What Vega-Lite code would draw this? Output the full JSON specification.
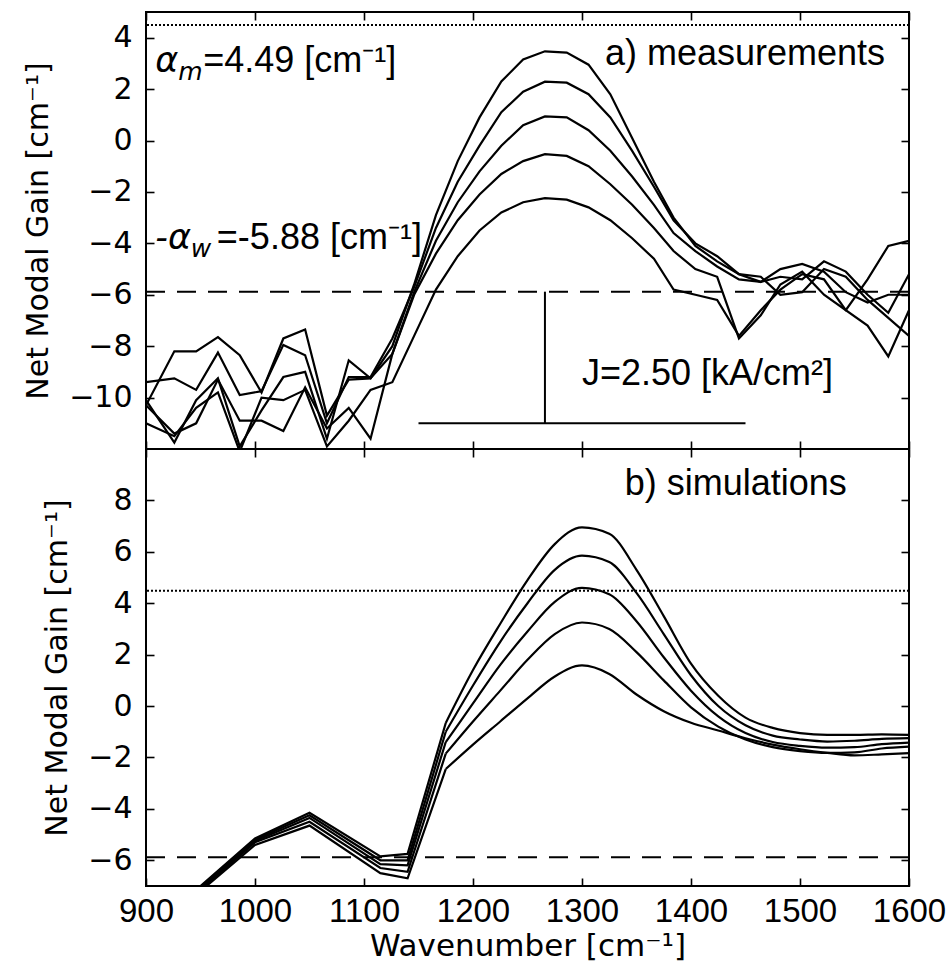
{
  "$schema": "https://vega.github.io/schema/vega-lite/v6.json",
  "padding": {"left": 22, "top": 10, "right": 0, "bottom": 0},
  "background": "white",
  "spacing": 0,
  "bounds": "flush",
  "config": {
    "view": {"stroke": "black", "strokeWidth": 2},
    "font": "Liberation Sans",
    "axis": {
      "grid": false, "domain": false, "tickColor": "black", "tickSize": 8, "tickWidth": 1.6, "offset": -8,
      "labelFont": "DejaVu Sans", "labelFontSize": 30, "labelColor": "black",
      "titleFont": "DejaVu Sans", "titleFontSize": 30, "titleFontWeight": "normal", "titleColor": "black"
    }
  },
  "datasets": {
    "meas": [
      {"wavenumber":900,"gain":-10.3,"curve":1},{"wavenumber":926,"gain":-8.2,"curve":1},{"wavenumber":946,"gain":-8.2,"curve":1},{"wavenumber":966,"gain":-7.65,"curve":1},{"wavenumber":986,"gain":-8.35,"curve":1},{"wavenumber":1006,"gain":-9.8,"curve":1},{"wavenumber":1026,"gain":-7.7,"curve":1},{"wavenumber":1046,"gain":-7.35,"curve":1},{"wavenumber":1066,"gain":-10.7,"curve":1},{"wavenumber":1086,"gain":-9.3,"curve":1},{"wavenumber":1106,"gain":-9.25,"curve":1},{"wavenumber":1126,"gain":-8.0,"curve":1},{"wavenumber":1146,"gain":-5.6,"curve":1},{"wavenumber":1166,"gain":-2.9,"curve":1},{"wavenumber":1186,"gain":-0.8,"curve":1},{"wavenumber":1206,"gain":0.9,"curve":1},{"wavenumber":1226,"gain":2.3,"curve":1},{"wavenumber":1246,"gain":3.15,"curve":1},{"wavenumber":1266,"gain":3.47,"curve":1},{"wavenumber":1286,"gain":3.42,"curve":1},{"wavenumber":1306,"gain":2.95,"curve":1},{"wavenumber":1326,"gain":1.8,"curve":1},{"wavenumber":1346,"gain":0.1,"curve":1},{"wavenumber":1366,"gain":-1.6,"curve":1},{"wavenumber":1384,"gain":-3.0,"curve":1},{"wavenumber":1404,"gain":-4.1,"curve":1},{"wavenumber":1424,"gain":-4.7,"curve":1},{"wavenumber":1444,"gain":-5.2,"curve":1},{"wavenumber":1464,"gain":-5.3,"curve":1},{"wavenumber":1482,"gain":-6.0,"curve":1},{"wavenumber":1502,"gain":-5.9,"curve":1},{"wavenumber":1522,"gain":-5.0,"curve":1},{"wavenumber":1542,"gain":-5.3,"curve":1},{"wavenumber":1562,"gain":-6.2,"curve":1},{"wavenumber":1581,"gain":-6.9,"curve":1},{"wavenumber":1600,"gain":-7.6,"curve":1},
      {"wavenumber":900,"gain":-9.4,"curve":2},{"wavenumber":926,"gain":-9.25,"curve":2},{"wavenumber":946,"gain":-9.7,"curve":2},{"wavenumber":966,"gain":-8.25,"curve":2},{"wavenumber":986,"gain":-9.9,"curve":2},{"wavenumber":1006,"gain":-9.75,"curve":2},{"wavenumber":1026,"gain":-7.95,"curve":2},{"wavenumber":1046,"gain":-8.35,"curve":2},{"wavenumber":1066,"gain":-11.0,"curve":2},{"wavenumber":1086,"gain":-9.2,"curve":2},{"wavenumber":1106,"gain":-9.2,"curve":2},{"wavenumber":1126,"gain":-7.7,"curve":2},{"wavenumber":1146,"gain":-5.7,"curve":2},{"wavenumber":1166,"gain":-3.4,"curve":2},{"wavenumber":1186,"gain":-1.6,"curve":2},{"wavenumber":1206,"gain":-0.2,"curve":2},{"wavenumber":1226,"gain":1.1,"curve":2},{"wavenumber":1246,"gain":1.9,"curve":2},{"wavenumber":1266,"gain":2.29,"curve":2},{"wavenumber":1286,"gain":2.25,"curve":2},{"wavenumber":1306,"gain":1.8,"curve":2},{"wavenumber":1326,"gain":0.9,"curve":2},{"wavenumber":1346,"gain":-0.4,"curve":2},{"wavenumber":1366,"gain":-1.8,"curve":2},{"wavenumber":1384,"gain":-3.1,"curve":2},{"wavenumber":1404,"gain":-4.0,"curve":2},{"wavenumber":1424,"gain":-4.5,"curve":2},{"wavenumber":1444,"gain":-5.2,"curve":2},{"wavenumber":1464,"gain":-5.5,"curve":2},{"wavenumber":1482,"gain":-5.0,"curve":2},{"wavenumber":1502,"gain":-4.8,"curve":2},{"wavenumber":1522,"gain":-5.1,"curve":2},{"wavenumber":1542,"gain":-5.9,"curve":2},{"wavenumber":1562,"gain":-6.3,"curve":2},{"wavenumber":1581,"gain":-6.0,"curve":2},{"wavenumber":1600,"gain":-6.0,"curve":2},
      {"wavenumber":900,"gain":-10.1,"curve":3},{"wavenumber":926,"gain":-11.75,"curve":3},{"wavenumber":946,"gain":-10.1,"curve":3},{"wavenumber":966,"gain":-9.25,"curve":3},{"wavenumber":986,"gain":-11.9,"curve":3},{"wavenumber":1006,"gain":-10.5,"curve":3},{"wavenumber":1026,"gain":-9.2,"curve":3},{"wavenumber":1046,"gain":-9.0,"curve":3},{"wavenumber":1066,"gain":-11.6,"curve":3},{"wavenumber":1086,"gain":-8.55,"curve":3},{"wavenumber":1106,"gain":-9.25,"curve":3},{"wavenumber":1126,"gain":-8.3,"curve":3},{"wavenumber":1146,"gain":-5.9,"curve":3},{"wavenumber":1166,"gain":-3.9,"curve":3},{"wavenumber":1186,"gain":-2.4,"curve":3},{"wavenumber":1206,"gain":-1.2,"curve":3},{"wavenumber":1226,"gain":-0.2,"curve":3},{"wavenumber":1246,"gain":0.6,"curve":3},{"wavenumber":1266,"gain":0.94,"curve":3},{"wavenumber":1286,"gain":0.9,"curve":3},{"wavenumber":1306,"gain":0.4,"curve":3},{"wavenumber":1326,"gain":-0.4,"curve":3},{"wavenumber":1346,"gain":-1.4,"curve":3},{"wavenumber":1366,"gain":-2.5,"curve":3},{"wavenumber":1384,"gain":-3.6,"curve":3},{"wavenumber":1404,"gain":-4.3,"curve":3},{"wavenumber":1424,"gain":-4.9,"curve":3},{"wavenumber":1444,"gain":-5.4,"curve":3},{"wavenumber":1464,"gain":-5.5,"curve":3},{"wavenumber":1482,"gain":-5.3,"curve":3},{"wavenumber":1502,"gain":-5.4,"curve":3},{"wavenumber":1522,"gain":-4.7,"curve":3},{"wavenumber":1542,"gain":-5.1,"curve":3},{"wavenumber":1562,"gain":-6.0,"curve":3},{"wavenumber":1581,"gain":-6.7,"curve":3},{"wavenumber":1600,"gain":-5.2,"curve":3},
      {"wavenumber":900,"gain":-10.3,"curve":4},{"wavenumber":926,"gain":-11.4,"curve":4},{"wavenumber":946,"gain":-11.0,"curve":4},{"wavenumber":966,"gain":-9.3,"curve":4},{"wavenumber":986,"gain":-10.9,"curve":4},{"wavenumber":1006,"gain":-10.9,"curve":4},{"wavenumber":1026,"gain":-11.3,"curve":4},{"wavenumber":1046,"gain":-9.6,"curve":4},{"wavenumber":1066,"gain":-11.2,"curve":4},{"wavenumber":1086,"gain":-10.4,"curve":4},{"wavenumber":1106,"gain":-11.6,"curve":4},{"wavenumber":1126,"gain":-8.3,"curve":4},{"wavenumber":1146,"gain":-6.0,"curve":4},{"wavenumber":1166,"gain":-4.4,"curve":4},{"wavenumber":1186,"gain":-3.1,"curve":4},{"wavenumber":1206,"gain":-2.1,"curve":4},{"wavenumber":1226,"gain":-1.3,"curve":4},{"wavenumber":1246,"gain":-0.8,"curve":4},{"wavenumber":1266,"gain":-0.53,"curve":4},{"wavenumber":1286,"gain":-0.6,"curve":4},{"wavenumber":1306,"gain":-1.0,"curve":4},{"wavenumber":1326,"gain":-1.7,"curve":4},{"wavenumber":1346,"gain":-2.5,"curve":4},{"wavenumber":1366,"gain":-3.4,"curve":4},{"wavenumber":1384,"gain":-4.3,"curve":4},{"wavenumber":1404,"gain":-5.0,"curve":4},{"wavenumber":1424,"gain":-5.3,"curve":4},{"wavenumber":1444,"gain":-7.7,"curve":4},{"wavenumber":1464,"gain":-6.8,"curve":4},{"wavenumber":1482,"gain":-5.6,"curve":4},{"wavenumber":1502,"gain":-5.1,"curve":4},{"wavenumber":1522,"gain":-6.0,"curve":4},{"wavenumber":1542,"gain":-6.6,"curve":4},{"wavenumber":1562,"gain":-5.4,"curve":4},{"wavenumber":1581,"gain":-4.1,"curve":4},{"wavenumber":1600,"gain":-3.9,"curve":4},
      {"wavenumber":900,"gain":-11.0,"curve":5},{"wavenumber":926,"gain":-11.5,"curve":5},{"wavenumber":946,"gain":-10.4,"curve":5},{"wavenumber":966,"gain":-9.8,"curve":5},{"wavenumber":986,"gain":-12.1,"curve":5},{"wavenumber":1006,"gain":-10.0,"curve":5},{"wavenumber":1026,"gain":-10.1,"curve":5},{"wavenumber":1046,"gain":-9.7,"curve":5},{"wavenumber":1066,"gain":-11.9,"curve":5},{"wavenumber":1086,"gain":-10.9,"curve":5},{"wavenumber":1106,"gain":-9.7,"curve":5},{"wavenumber":1126,"gain":-9.4,"curve":5},{"wavenumber":1146,"gain":-7.6,"curve":5},{"wavenumber":1166,"gain":-5.8,"curve":5},{"wavenumber":1186,"gain":-4.5,"curve":5},{"wavenumber":1206,"gain":-3.5,"curve":5},{"wavenumber":1226,"gain":-2.8,"curve":5},{"wavenumber":1246,"gain":-2.4,"curve":5},{"wavenumber":1266,"gain":-2.24,"curve":5},{"wavenumber":1286,"gain":-2.3,"curve":5},{"wavenumber":1306,"gain":-2.6,"curve":5},{"wavenumber":1326,"gain":-3.1,"curve":5},{"wavenumber":1346,"gain":-3.8,"curve":5},{"wavenumber":1366,"gain":-4.6,"curve":5},{"wavenumber":1384,"gain":-5.8,"curve":5},{"wavenumber":1404,"gain":-6.0,"curve":5},{"wavenumber":1424,"gain":-6.2,"curve":5},{"wavenumber":1444,"gain":-7.6,"curve":5},{"wavenumber":1464,"gain":-6.6,"curve":5},{"wavenumber":1482,"gain":-5.8,"curve":5},{"wavenumber":1502,"gain":-5.2,"curve":5},{"wavenumber":1522,"gain":-5.4,"curve":5},{"wavenumber":1542,"gain":-6.6,"curve":5},{"wavenumber":1562,"gain":-7.2,"curve":5},{"wavenumber":1581,"gain":-8.4,"curve":5},{"wavenumber":1600,"gain":-6.6,"curve":5}
    ],
    "sim": [
      {"wavenumber":900,"gain":-8.85,"curve":1},{"wavenumber":950,"gain":-7.0,"curve":1},{"wavenumber":1000,"gain":-5.15,"curve":1},{"wavenumber":1050,"gain":-4.15,"curve":1},{"wavenumber":1115,"gain":-5.85,"curve":1},{"wavenumber":1140,"gain":-5.75,"curve":1},{"wavenumber":1175,"gain":-0.66,"curve":1},{"wavenumber":1200,"gain":1.4,"curve":1},{"wavenumber":1225,"gain":3.2,"curve":1},{"wavenumber":1250,"gain":4.9,"curve":1},{"wavenumber":1275,"gain":6.3,"curve":1},{"wavenumber":1300,"gain":6.95,"curve":1},{"wavenumber":1325,"gain":6.7,"curve":1},{"wavenumber":1350,"gain":5.3,"curve":1},{"wavenumber":1375,"gain":3.5,"curve":1},{"wavenumber":1400,"gain":1.65,"curve":1},{"wavenumber":1425,"gain":0.4,"curve":1},{"wavenumber":1450,"gain":-0.45,"curve":1},{"wavenumber":1475,"gain":-0.85,"curve":1},{"wavenumber":1500,"gain":-1.05,"curve":1},{"wavenumber":1525,"gain":-1.12,"curve":1},{"wavenumber":1550,"gain":-1.12,"curve":1},{"wavenumber":1575,"gain":-1.1,"curve":1},{"wavenumber":1600,"gain":-1.12,"curve":1},
      {"wavenumber":900,"gain":-8.9,"curve":2},{"wavenumber":950,"gain":-7.05,"curve":2},{"wavenumber":1000,"gain":-5.2,"curve":2},{"wavenumber":1050,"gain":-4.25,"curve":2},{"wavenumber":1115,"gain":-6.0,"curve":2},{"wavenumber":1140,"gain":-6.0,"curve":2},{"wavenumber":1175,"gain":-1.0,"curve":2},{"wavenumber":1200,"gain":0.8,"curve":2},{"wavenumber":1225,"gain":2.5,"curve":2},{"wavenumber":1250,"gain":4.0,"curve":2},{"wavenumber":1275,"gain":5.3,"curve":2},{"wavenumber":1300,"gain":5.85,"curve":2},{"wavenumber":1325,"gain":5.6,"curve":2},{"wavenumber":1350,"gain":4.4,"curve":2},{"wavenumber":1375,"gain":2.8,"curve":2},{"wavenumber":1400,"gain":1.2,"curve":2},{"wavenumber":1425,"gain":0.0,"curve":2},{"wavenumber":1450,"gain":-0.75,"curve":2},{"wavenumber":1475,"gain":-1.15,"curve":2},{"wavenumber":1500,"gain":-1.3,"curve":2},{"wavenumber":1525,"gain":-1.38,"curve":2},{"wavenumber":1550,"gain":-1.35,"curve":2},{"wavenumber":1575,"gain":-1.28,"curve":2},{"wavenumber":1600,"gain":-1.25,"curve":2},
      {"wavenumber":900,"gain":-9.0,"curve":3},{"wavenumber":950,"gain":-7.1,"curve":3},{"wavenumber":1000,"gain":-5.25,"curve":3},{"wavenumber":1050,"gain":-4.35,"curve":3},{"wavenumber":1115,"gain":-6.15,"curve":3},{"wavenumber":1140,"gain":-6.2,"curve":3},{"wavenumber":1175,"gain":-1.4,"curve":3},{"wavenumber":1200,"gain":0.1,"curve":3},{"wavenumber":1225,"gain":1.6,"curve":3},{"wavenumber":1250,"gain":2.9,"curve":3},{"wavenumber":1275,"gain":4.05,"curve":3},{"wavenumber":1300,"gain":4.6,"curve":3},{"wavenumber":1325,"gain":4.35,"curve":3},{"wavenumber":1350,"gain":3.3,"curve":3},{"wavenumber":1375,"gain":1.9,"curve":3},{"wavenumber":1400,"gain":0.6,"curve":3},{"wavenumber":1425,"gain":-0.4,"curve":3},{"wavenumber":1450,"gain":-1.05,"curve":3},{"wavenumber":1475,"gain":-1.4,"curve":3},{"wavenumber":1500,"gain":-1.55,"curve":3},{"wavenumber":1525,"gain":-1.62,"curve":3},{"wavenumber":1550,"gain":-1.6,"curve":3},{"wavenumber":1575,"gain":-1.48,"curve":3},{"wavenumber":1600,"gain":-1.42,"curve":3},
      {"wavenumber":900,"gain":-9.1,"curve":4},{"wavenumber":950,"gain":-7.15,"curve":4},{"wavenumber":1000,"gain":-5.3,"curve":4},{"wavenumber":1050,"gain":-4.5,"curve":4},{"wavenumber":1115,"gain":-6.3,"curve":4},{"wavenumber":1140,"gain":-6.45,"curve":4},{"wavenumber":1175,"gain":-1.85,"curve":4},{"wavenumber":1200,"gain":-0.6,"curve":4},{"wavenumber":1225,"gain":0.6,"curve":4},{"wavenumber":1250,"gain":1.8,"curve":4},{"wavenumber":1275,"gain":2.8,"curve":4},{"wavenumber":1300,"gain":3.25,"curve":4},{"wavenumber":1325,"gain":3.0,"curve":4},{"wavenumber":1350,"gain":2.1,"curve":4},{"wavenumber":1375,"gain":1.0,"curve":4},{"wavenumber":1400,"gain":-0.05,"curve":4},{"wavenumber":1425,"gain":-0.8,"curve":4},{"wavenumber":1450,"gain":-1.3,"curve":4},{"wavenumber":1475,"gain":-1.6,"curve":4},{"wavenumber":1500,"gain":-1.75,"curve":4},{"wavenumber":1525,"gain":-1.82,"curve":4},{"wavenumber":1550,"gain":-1.8,"curve":4},{"wavenumber":1575,"gain":-1.65,"curve":4},{"wavenumber":1600,"gain":-1.58,"curve":4},
      {"wavenumber":900,"gain":-9.2,"curve":5},{"wavenumber":950,"gain":-7.2,"curve":5},{"wavenumber":1000,"gain":-5.4,"curve":5},{"wavenumber":1050,"gain":-4.65,"curve":5},{"wavenumber":1115,"gain":-6.5,"curve":5},{"wavenumber":1140,"gain":-6.7,"curve":5},{"wavenumber":1175,"gain":-2.45,"curve":5},{"wavenumber":1200,"gain":-1.5,"curve":5},{"wavenumber":1225,"gain":-0.6,"curve":5},{"wavenumber":1250,"gain":0.3,"curve":5},{"wavenumber":1275,"gain":1.15,"curve":5},{"wavenumber":1300,"gain":1.58,"curve":5},{"wavenumber":1325,"gain":1.25,"curve":5},{"wavenumber":1350,"gain":0.45,"curve":5},{"wavenumber":1375,"gain":-0.2,"curve":5},{"wavenumber":1400,"gain":-0.65,"curve":5},{"wavenumber":1425,"gain":-0.95,"curve":5},{"wavenumber":1450,"gain":-1.25,"curve":5},{"wavenumber":1475,"gain":-1.5,"curve":5},{"wavenumber":1500,"gain":-1.68,"curve":5},{"wavenumber":1525,"gain":-1.82,"curve":5},{"wavenumber":1550,"gain":-1.92,"curve":5},{"wavenumber":1575,"gain":-1.88,"curve":5},{"wavenumber":1600,"gain":-1.83,"curve":5}
    ]
  },
  "vconcat": [
    {
      "width": 763,
      "height": 437,
      "resolve": {"axis": {"x": "independent", "y": "independent"}},
      "layer": [
        {
          "data": {"name": "meas"},
          "mark": {"type": "line", "color": "black", "strokeWidth": 2.2, "clip": true},
          "encoding": {
            "x": {"field": "wavenumber", "type": "quantitative", "scale": {"domain": [900, 1600], "nice": false, "zero": false},
                  "axis": {"values": [900,1000,1100,1200,1300,1400,1500,1600], "labels": false, "title": null}},
            "y": {"field": "gain", "type": "quantitative", "scale": {"domain": [-12, 5], "nice": false, "zero": false},
                  "axis": {"values": [-10,-8,-6,-4,-2,0,2,4], "title": "Net Modal Gain [cm⁻¹]", "labelPadding": 14, "titlePadding": 15}},
            "detail": {"field": "curve"}
          }
        },
        {
          "data": {"values": [{"x": 1150, "x2": 1450, "y": -11, "y2": -11}, {"x": 1266, "x2": 1266, "y": -5.88, "y2": -11}]},
          "mark": {"type": "rule", "color": "black", "strokeWidth": 2},
          "encoding": {
            "x": {"field": "x", "type": "quantitative", "axis": {"orient": "top", "values": [900,1000,1100,1200,1300,1400,1500,1600], "labels": false, "title": null}},
            "x2": {"field": "x2"},
            "y": {"field": "y", "type": "quantitative", "axis": {"orient": "right", "values": [-10,-8,-6,-4,-2,0,2,4], "labels": false, "title": null}},
            "y2": {"field": "y2"}
          }
        },
        {
          "data": {"values": [{"level": 4.49}]},
          "mark": {"type": "rule", "color": "black", "strokeWidth": 2, "strokeDash": [2, 2]},
          "encoding": {"y": {"field": "level", "type": "quantitative", "axis": null}}
        },
        {
          "data": {"values": [{"level": -5.88}]},
          "mark": {"type": "rule", "color": "black", "strokeWidth": 2, "strokeDash": [19, 12]},
          "encoding": {"y": {"field": "level", "type": "quantitative", "axis": null}}
        },
        {
          "data": {"values": [{"x": 908.5, "y": 2.67, "t": "α"}, {"x": 908.5, "y": -4.22, "t": "-α"}]},
          "mark": {"type": "text", "align": "left", "baseline": "alphabetic", "font": "DejaVu Sans", "fontStyle": "italic", "fontSize": 35, "color": "black"},
          "encoding": {"x": {"field": "x", "type": "quantitative", "axis": null}, "y": {"field": "y", "type": "quantitative", "axis": null}, "text": {"field": "t"}}
        },
        {
          "data": {"values": [{"x": 929.5, "y": 2.67, "t": "m"}, {"x": 941, "y": -4.22, "t": "w"}]},
          "mark": {"type": "text", "align": "left", "baseline": "alphabetic", "font": "DejaVu Sans", "fontStyle": "italic", "fontSize": 25, "dy": 8, "color": "black"},
          "encoding": {"x": {"field": "x", "type": "quantitative", "axis": null}, "y": {"field": "y", "type": "quantitative", "axis": null}, "text": {"field": "t"}}
        },
        {
          "data": {"values": [{"x": 952.5, "y": 2.67, "t": "=4.49 [cm⁻¹]"}, {"x": 965, "y": -4.22, "t": "=-5.88 [cm⁻¹]"}, {"x": 1300, "y": -9.51, "t": "J=2.50 [kA/cm²]"}]},
          "mark": {"type": "text", "align": "left", "baseline": "alphabetic", "fontSize": 36, "color": "black"},
          "encoding": {"x": {"field": "x", "type": "quantitative", "axis": null}, "y": {"field": "y", "type": "quantitative", "axis": null}, "text": {"field": "t"}}
        },
        {
          "data": {"values": [{"x": 1578, "y": 2.94, "t": "a) measurements"}]},
          "mark": {"type": "text", "align": "right", "baseline": "alphabetic", "fontSize": 36, "color": "black"},
          "encoding": {"x": {"field": "x", "type": "quantitative", "axis": null}, "y": {"field": "y", "type": "quantitative", "axis": null}, "text": {"field": "t"}}
        }
      ]
    },
    {
      "width": 763,
      "height": 437,
      "resolve": {"axis": {"x": "independent", "y": "independent"}},
      "layer": [
        {
          "data": {"name": "sim"},
          "transform": [{"filter": "datum.wavenumber <= 1175"}],
          "mark": {"type": "line", "color": "black", "strokeWidth": 2.2, "clip": true},
          "encoding": {
            "x": {"field": "wavenumber", "type": "quantitative", "scale": {"domain": [900, 1600], "nice": false, "zero": false},
                  "axis": {"values": [900,1000,1100,1200,1300,1400,1500,1600], "format": "d", "title": "Wavenumber [cm⁻¹]", "labelFont": "Liberation Sans", "labelFontSize": 33, "labelPadding": 9, "labelFlush": false, "labelOverlap": false, "titleFontSize": 31, "titlePadding": 3}},
            "y": {"field": "gain", "type": "quantitative", "scale": {"domain": [-7, 10], "nice": false, "zero": false},
                  "axis": {"values": [-6,-4,-2,0,2,4,6,8], "title": "Net Modal Gain [cm⁻¹]", "labelPadding": 14, "titlePadding": 15}},
            "detail": {"field": "curve"}
          }
        },
        {
          "data": {"name": "sim"},
          "transform": [{"filter": "datum.wavenumber >= 1175"}],
          "mark": {"type": "line", "color": "black", "strokeWidth": 2.2, "clip": true, "interpolate": "monotone"},
          "encoding": {
            "x": {"field": "wavenumber", "type": "quantitative", "axis": null},
            "y": {"field": "gain", "type": "quantitative", "axis": null},
            "detail": {"field": "curve"}
          }
        },
        {
          "data": {"name": "sim"},
          "mark": {"type": "line", "color": "black", "strokeOpacity": 0, "clip": true},
          "encoding": {
            "x": {"field": "wavenumber", "type": "quantitative", "axis": {"orient": "top", "values": [900,1000,1100,1200,1300,1400,1500,1600], "labels": false, "title": null}},
            "y": {"field": "gain", "type": "quantitative", "axis": {"orient": "right", "values": [-6,-4,-2,0,2,4,6,8], "labels": false, "title": null}},
            "detail": {"field": "curve"}
          }
        },
        {
          "data": {"values": [{"level": 4.49}]},
          "mark": {"type": "rule", "color": "black", "strokeWidth": 2, "strokeDash": [2, 2]},
          "encoding": {"y": {"field": "level", "type": "quantitative", "axis": null}}
        },
        {
          "data": {"values": [{"level": -5.88}]},
          "mark": {"type": "rule", "color": "black", "strokeWidth": 2, "strokeDash": [19, 12]},
          "encoding": {"y": {"field": "level", "type": "quantitative", "axis": null}}
        },
        {
          "data": {"values": [{"x": 1543, "y": 8.21, "t": "b) simulations"}]},
          "mark": {"type": "text", "align": "right", "baseline": "alphabetic", "fontSize": 36, "color": "black"},
          "encoding": {"x": {"field": "x", "type": "quantitative", "axis": null}, "y": {"field": "y", "type": "quantitative", "axis": null}, "text": {"field": "t"}}
        }
      ]
    }
  ]
}
